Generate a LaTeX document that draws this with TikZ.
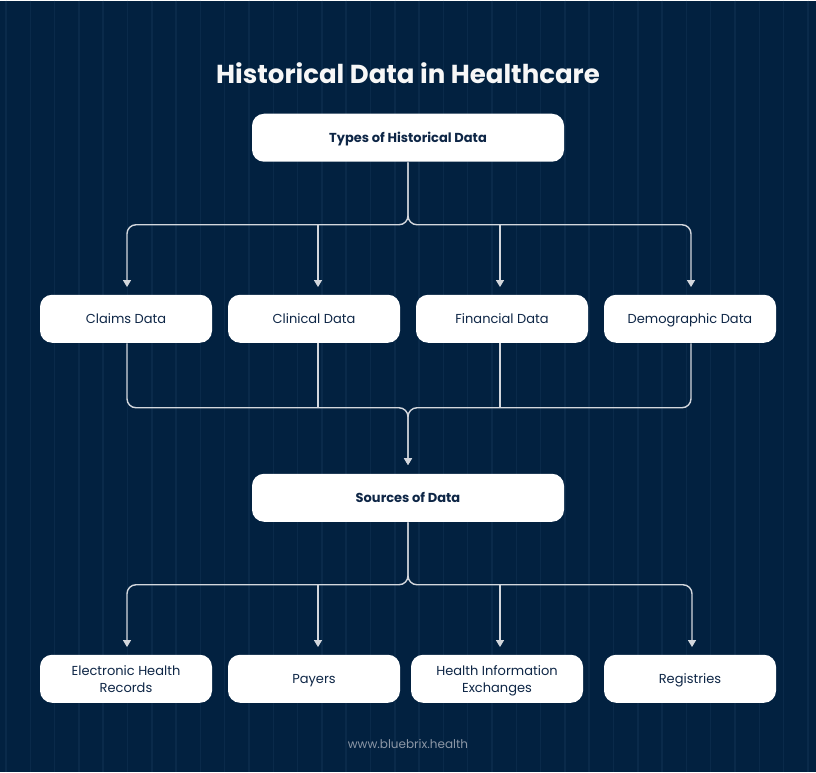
\documentclass[tikz,border=0pt]{standalone}
\usepackage{fontspec}
\setmainfont{Poppins}
\usetikzlibrary{arrows.meta}
\definecolor{navybg}{HTML}{022140}
\definecolor{stripe}{HTML}{0A2A4A}
\definecolor{boxtext}{HTML}{0E2646}
\definecolor{linegrey}{HTML}{D3D7DD}
\definecolor{footgrey}{HTML}{8C97A6}

\begin{document}
\begin{tikzpicture}[x=1pt, y=-1pt, >={Triangle[length=7pt,width=8pt]}, line width=1.4pt]
    \tikzstyle{head}=[rectangle, rounded corners=12pt, fill=white, minimum width=312pt, minimum height=48pt, text depth=0pt, text=boxtext, font=\bfseries\fontsize{13}{16}\selectfont]
    \tikzstyle{leaf}=[rectangle, rounded corners=12pt, fill=white, minimum width=172pt, minimum height=48pt, text depth=0pt, text=boxtext, align=center, font=\fontsize{13}{17}\selectfont]
    \tikzstyle{link}=[draw=linegrey, rounded corners=9pt]
    % background with faint stripes
    \fill[navybg] (0,0) rectangle (816,771);
    \foreach \i in {0,...,33}
      \draw[stripe, line width=1.5pt] (6+24.3*\i,0) -- (6+24.3*\i,771);
    \node[text=white!94!gray, font=\bfseries\fontsize{26}{30}\selectfont] (title) at (408,72) {Historical Data in Healthcare};
    \node[head] (types) at (408,137) {Types of Historical Data};
    \node[leaf] (claims) at (126,318) {Claims Data};
    \node[leaf] (clinical) at (314,318) {Clinical Data};
    \node[leaf] (financial) at (502,318) {Financial Data};
    \node[leaf] (demographic) at (690,318) {Demographic Data};
    \node[head] (sources) at (408,497) {Sources of Data};
    \node[leaf] (ehr) at (126,678) {Electronic Health\\Records};
    \node[leaf] (payers) at (314,678) {Payers};
    \node[leaf] (hie) at (497,678) {Health Information\\Exchanges};
    \node[leaf] (registries) at (690,678) {Registries};
    \node[text=footgrey, font=\fontsize{12}{14}\selectfont] (footer) at (408,743) {www.bluebrix.health};
    \coordinate (split1) at (408,224);
    \coordinate (merge) at (408,407);
    \coordinate (split2) at (408,584);
    % where the lines meet the boxes
    \coordinate (claimsIn) at ([xshift=1pt]claims.north);
    \coordinate (clinicalIn) at ([xshift=4pt]clinical.north);
    \coordinate (financialIn) at ([xshift=-2pt]financial.north);
    \coordinate (demographicIn) at ([xshift=1pt]demographic.north);
    \coordinate (claimsOut) at ([xshift=1pt]claims.south);
    \coordinate (clinicalOut) at ([xshift=4pt]clinical.south);
    \coordinate (financialOut) at ([xshift=-2pt]financial.south);
    \coordinate (demographicOut) at ([xshift=1pt]demographic.south);
    \coordinate (ehrIn) at ([xshift=1pt]ehr.north);
    \coordinate (payersIn) at ([xshift=4pt]payers.north);
    \coordinate (hieIn) at ([xshift=3pt]hie.north);
    \coordinate (registriesIn) at ([xshift=2pt]registries.north);
    % types -> four kinds
    \draw[link,->,shorten >=7pt] (types.south) -- (split1) -| (claimsIn);
    \draw[link,->,shorten >=7pt] (types.south) -- (split1) -| (demographicIn);
    \draw[link,->,shorten >=7pt] (split1 -| clinicalIn) -- (clinicalIn);
    \draw[link,->,shorten >=7pt] (split1 -| financialIn) -- (financialIn);
    % four kinds -> sources
    \draw[link,->,shorten >=8pt] (claimsOut) |- (merge) -- (sources.north);
    \draw[link,->,shorten >=8pt] (demographicOut) |- (merge) -- (sources.north);
    \draw[link] (clinicalOut) -- (merge -| clinicalOut);
    \draw[link] (financialOut) -- (merge -| financialOut);
    % sources -> four sources
    \draw[link,->,shorten >=7pt] (sources.south) -- (split2) -| (ehrIn);
    \draw[link,->,shorten >=7pt] (sources.south) -- (split2) -| (registriesIn);
    \draw[link,->,shorten >=7pt] (split2 -| payersIn) -- (payersIn);
    \draw[link,->,shorten >=7pt] (split2 -| hieIn) -- (hieIn);
\end{tikzpicture}
\end{document}
